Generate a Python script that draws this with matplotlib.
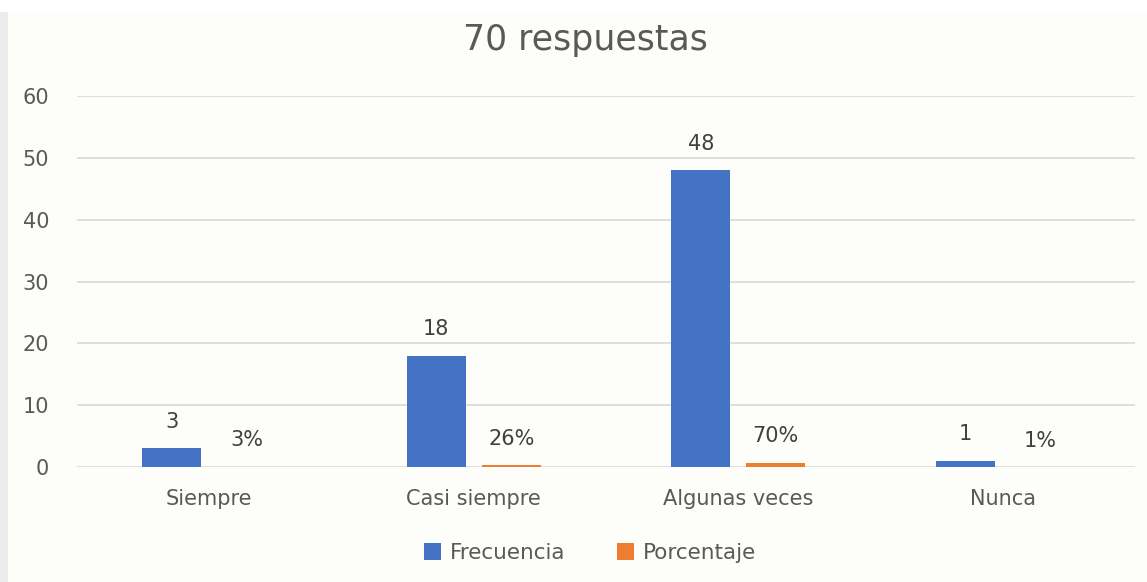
import matplotlib
matplotlib.use("Agg")
import matplotlib.pyplot as plt
from matplotlib.patches import Rectangle
import numpy as np

categories = ["Siempre", "Casi siempre", "Algunas veces", "Nunca"]
frecuencia = [3, 18, 48, 1]
porcentaje = [0.03, 0.26, 0.70, 0.01]
pct_labels = ["3%", "26%", "70%", "1%"]
yticks = [0, 10, 20, 30, 40, 50, 60]

BLUE = "#4472C4"
ORANGE = "#ED7D31"
TXT = "#595959"
plt.rcParams["font.family"] = ["DejaVu Sans"]

fig = plt.figure(figsize=(11.47, 5.82), dpi=100, facecolor="#FDFDF9")
# white band at the top (cut-off caption line) and gray strip on the left
fig.patches.append(Rectangle((0, 1 - 12 / 582), 1, 12 / 582, transform=fig.transFigure,
                             facecolor="white", edgecolor="none", zorder=0))
fig.patches.append(Rectangle((0, 0), 8 / 1147, 1 - 12 / 582, transform=fig.transFigure,
                             facecolor="#ECECEC", edgecolor="none", zorder=0))
ax = fig.add_axes([77 / 1147, 1 - 467 / 582, (1135 - 77) / 1147, (467 - 96) / 582])
ax.set_facecolor("none")

x = np.arange(len(categories))
w = 0.223
b1 = ax.bar(x - 0.142, frecuencia, w, color=BLUE, label="Frecuencia", zorder=3)
b2 = ax.bar(x + 0.142, porcentaje, w, color=ORANGE, label="Porcentaje", zorder=3)

for rect, v in zip(b1, frecuencia):
    ax.annotate(str(v), (rect.get_x() + rect.get_width() / 2, rect.get_height()),
                xytext=(0, 19), textcoords="offset points", ha="center", va="center",
                fontsize=15, color="#404040")
for rect, lab in zip(b2, pct_labels):
    ax.annotate(lab, (rect.get_x() + rect.get_width() / 2, rect.get_height()),
                xytext=(0, 19), textcoords="offset points", ha="center", va="center",
                fontsize=15, color="#404040")

ax.set_xlim(-0.5, len(categories) - 0.5)
ax.set_ylim(0, 60)
ax.set_yticks(yticks)
ax.set_xticks(x)
ax.set_xticklabels(categories)
ax.tick_params(axis="y", length=0, pad=20, labelsize=15, labelcolor=TXT)
ax.tick_params(axis="x", length=0, pad=16, labelsize=15, labelcolor=TXT)
ax.grid(axis="y", color="#D9D9D9", linewidth=1.2, zorder=0)
for s in ax.spines.values():
    s.set_visible(False)

fig.text(585 / 1147, 1 - 40 / 582, "70 respuestas", ha="center", va="center",
         fontsize=25, color="#595959")

ax.legend(loc="center", bbox_to_anchor=((590 - 77) / 1058, (467 - 553) / (467 - 96)),
          ncol=2, frameon=False, fontsize=15.5, handlelength=0.8, handleheight=0.8,
          handletextpad=0.4, columnspacing=2.4, labelcolor=TXT)

fig.savefig("out.png", dpi=100, facecolor=fig.get_facecolor())
